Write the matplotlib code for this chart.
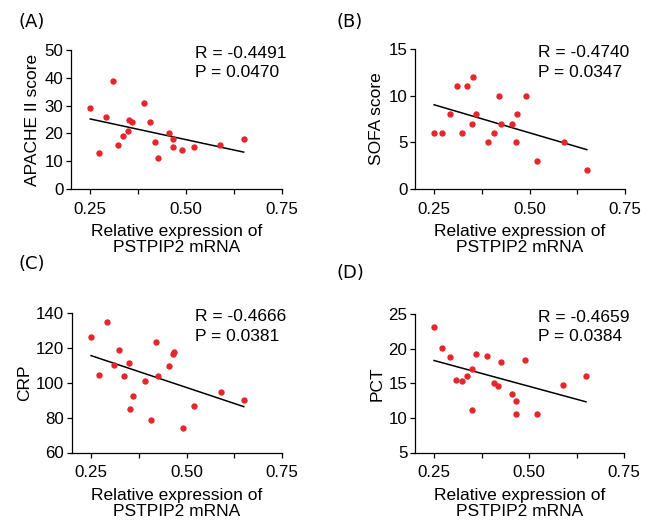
import matplotlib
matplotlib.use("Agg")
import matplotlib.pyplot as plt
import numpy as np

plt.rcParams['font.family'] = ['Liberation Sans', 'DejaVu Sans']

# relative expression of PSTPIP2 mRNA (same patients in every panel)
expr = [0.250, 0.272, 0.291, 0.309, 0.323, 0.336, 0.349, 0.351, 0.360, 0.390,
        0.407, 0.419, 0.426, 0.455, 0.465, 0.467, 0.490, 0.520, 0.589, 0.650]

apache = [29, 13, 26, 39, 16, 19, 21, 25, 24, 31, 24, 17, 11, 20, 18, 15, 14, 15, 16, 18]
sofa = [6, 6, 8, 11, 6, 11, 7, 12, 8, 5, 6, 10, 7, 7, 5, 8, 10, 3, 5, 2]
crp = [126, 104.4, 135, 110.4, 118.6, 103.9, 111.1, 85.1, 92.2, 101.2,
       78.8, 123.6, 103.9, 109.8, 116.3, 117.6, 73.8, 86.8, 94.5, 89.9]
pct = [23.1, 20.1, 18.8, 15.5, 15.3, 16.0, 11.1, 17.1, 19.2, 18.9,
       15.1, 14.6, 18.1, 13.5, 12.5, 10.6, 18.3, 10.5, 14.8, 16.1]

panel_letters = ['(A)', '(B)', '(C)', '(D)']
y_labels = ['APACHE II score', 'SOFA score', 'CRP', 'PCT']
r_texts = ['R = -0.4491', 'R = -0.4740', 'R = -0.4666', 'R = -0.4659']
p_texts = ['P = 0.0470', 'P = 0.0347', 'P = 0.0381', 'P = 0.0384']
y_lims = [(0, 50), (0, 15), (60, 140), (5, 25)]
y_steps = [10, 5, 20, 5]
x_label = 'Relative expression of\nPSTPIP2 mRNA'

W, H = 654, 524
fig = plt.figure(figsize=(W / 100, H / 100), dpi=100)

# axes boxes in pixels: left, top, right, bottom
boxes = [(71, 50, 282, 189), (415, 49, 625, 189),
         (72, 313, 282, 452.5), (415, 314, 624, 452.5)]
letter_pos = [(18, 22), (336, 22), (18, 264), (336, 273)]

for i, yv in enumerate([apache, sofa, crp, pct]):
    l, t, r, b = boxes[i]
    ax = fig.add_axes([l / W, 1 - b / H, (r - l) / W, (b - t) / H])
    x = np.array(expr)
    y = np.array(yv)
    ax.scatter(x, y, s=21, color='#e5262b', zorder=3, linewidths=0)
    k, c = np.polyfit(x, y, 1)
    xx = np.array([x.min(), x.max()])
    ax.plot(xx, k * xx + c, color='black', lw=1.1, zorder=2)

    ax.set_xlim(0.2, 0.75)
    ax.set_xticks([0.25, 0.375, 0.5, 0.625, 0.75])
    ax.set_xticklabels(['0.25', '', '0.50', '', '0.75'])
    ax.set_ylim(*y_lims[i])
    ax.set_yticks(np.arange(y_lims[i][0], y_lims[i][1] + 0.1, y_steps[i]))
    ax.tick_params(direction='out', length=3.5, width=0.9, labelsize=12.2)
    ax.tick_params(axis='x', pad=5.5)
    ax.tick_params(axis='y', pad=2)
    for side in ['top', 'right']:
        ax.spines[side].set_visible(False)
    for side in ['left', 'bottom']:
        ax.spines[side].set_linewidth(0.9)
    ax.set_xlabel(x_label, fontsize=12.5, linespacing=1.1, labelpad=5.5)
    ax.set_ylabel(y_labels[i], fontsize=12.5, labelpad=3)
    ax.text(0.587, 0.977, r_texts[i], transform=ax.transAxes, fontsize=12.5, va='center')
    ax.text(0.587, 0.835, p_texts[i], transform=ax.transAxes, fontsize=12.5, va='center')

    lx, ly = letter_pos[i]
    fig.text(lx / W, 1 - ly / H, panel_letters[i], fontsize=13, va='center',
             family=['DejaVu Sans'])

fig.savefig('out.png', dpi=100)
